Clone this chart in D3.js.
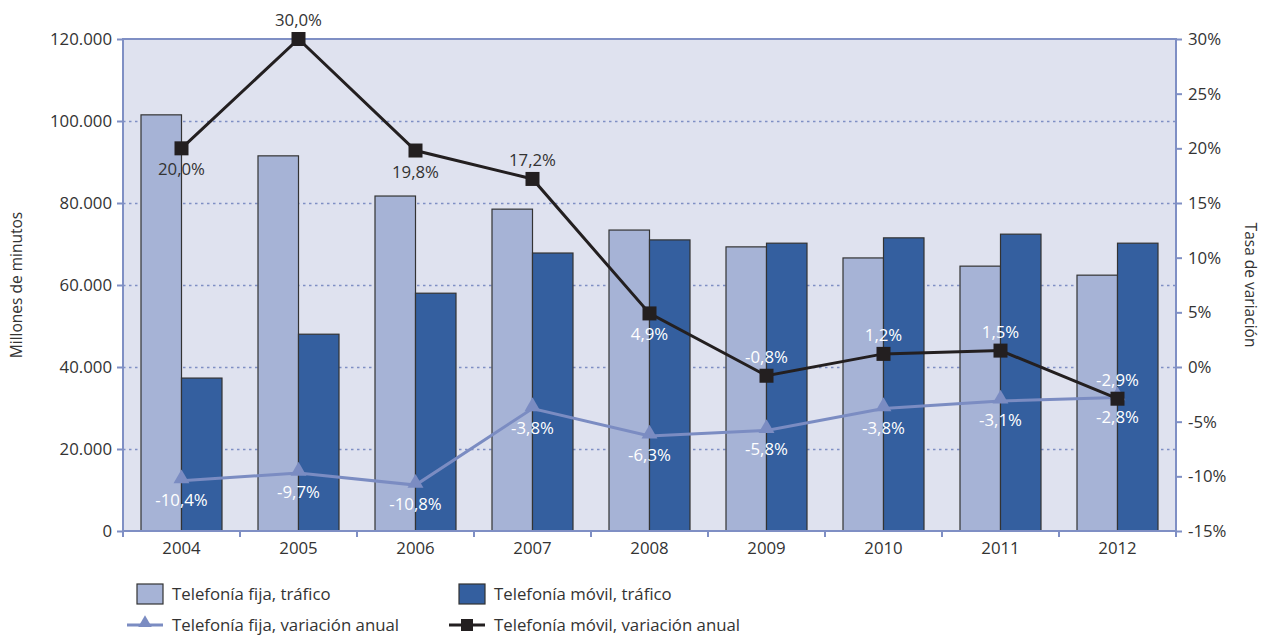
<!DOCTYPE html>
<html><head><meta charset="utf-8">
<script src="https://cdn.jsdelivr.net/npm/d3@7"></script>
<style>body{margin:0;background:#fff;} text{font-family:"Open Sans","Noto Sans",sans-serif;}</style>
</head><body>
<svg id="c" width="1264" height="636"></svg>
<script>
const years = ["2004","2005","2006","2007","2008","2009","2010","2011","2012"];
const fijaTrafico = [101500, 91500, 81700, 78500, 73400, 69300, 66600, 64600, 62400];
const movilTrafico = [37300, 48000, 58000, 67800, 71000, 70200, 71500, 72400, 70200];
const fijaVar = [-10.4, -9.7, -10.8, -3.8, -6.3, -5.8, -3.8, -3.1, -2.8];
const movilVar = [20.0, 30.0, 19.8, 17.2, 4.9, -0.8, 1.2, 1.5, -2.9];
const movilLabelPos = ["below","above","below","above","below","above","above","above","above"];
const movilLabelDark = [true,true,true,true,false,false,false,false,false];
const leftTicks = [0,20000,40000,60000,80000,100000,120000];
const rightTicks = [-15,-10,-5,0,5,10,15,20,25,30];

const C = {bg:"#dfe2ef", axis:"#7f8fc4", fija:"#a6b3d6", movil:"#345f9f", black:"#231f20", fijaLine:"#7b8cc2", text:"#333"};
const L = 123, R = 1176, T = 39, B = 531;
const FS = "16.8px";
const svg = d3.select("#c");
const x = d3.scaleBand().domain(years).range([L,R]);
const y = d3.scaleLinear().domain([0,120000]).range([B,T]);
const y2 = d3.scaleLinear().domain([-15,30]).range([B,T]);
const loc = d3.formatLocale({decimal:",", thousands:".", grouping:[3], currency:["",""], minus:"-"});
const fmtN = loc.format(",");
const fmtP = v => v.toFixed(1).replace(".",",") + "%";

svg.append("rect").attr("x",L).attr("y",T).attr("width",R-L).attr("height",B-T).attr("fill",C.bg);
// grid
svg.append("g").selectAll("line").data(leftTicks.filter(d=>d>0&&d<120000)).join("line")
  .attr("x1",L).attr("x2",R).attr("y1",d=>y(d)+0.5).attr("y2",d=>y(d)+0.5)
  .attr("stroke",C.axis).attr("stroke-width",1.5).attr("stroke-dasharray","2.5,3.5");

const bw = 40.5;
const g = svg.append("g");
g.selectAll(".bf").data(years).join("rect")
  .attr("x",d=>x(d)+x.bandwidth()/2-bw).attr("width",bw)
  .attr("y",(d,i)=>y(fijaTrafico[i])).attr("height",(d,i)=>B-y(fijaTrafico[i]))
  .attr("fill",C.fija).attr("stroke",C.text).attr("stroke-width",1.2);
g.selectAll(".bm").data(years).join("rect")
  .attr("x",d=>x(d)+x.bandwidth()/2).attr("width",bw)
  .attr("y",(d,i)=>y(movilTrafico[i])).attr("height",(d,i)=>B-y(movilTrafico[i]))
  .attr("fill",C.movil).attr("stroke",C.text).attr("stroke-width",1.2);

// border
svg.append("rect").attr("x",L).attr("y",T).attr("width",R-L).attr("height",B-T).attr("fill","none").attr("stroke",C.axis).attr("stroke-width",2);

// axes
const la = svg.append("g").attr("transform",`translate(${L},0)`)
  .call(d3.axisLeft(y).tickValues(leftTicks).tickFormat(fmtN).tickSize(6).tickPadding(5));
const ra = svg.append("g").attr("transform",`translate(${R},0)`)
  .call(d3.axisRight(y2).tickValues(rightTicks).tickFormat(d=>d+"%").tickSize(6).tickPadding(6));
const xa = svg.append("g").attr("transform",`translate(0,${B})`)
  .call(d3.axisBottom(x).tickSize(0).tickPadding(11));
svg.append("g").selectAll("line").data(years.concat(["end"])).join("line")
  .attr("x1",(d,i)=>L+i*x.step()).attr("x2",(d,i)=>L+i*x.step())
  .attr("y1",B).attr("y2",B+6).attr("stroke",C.axis).attr("stroke-width",2);
[la,ra,xa].forEach(a=>{a.select(".domain").remove();
  a.selectAll(".tick line").attr("stroke",C.axis).attr("stroke-width",2);
  a.selectAll("text").attr("fill",C.text).style("font-size",FS).style("font-family","'Open Sans',sans-serif");});

// axis titles
svg.append("text").attr("transform","translate(22,285) rotate(-90)").attr("text-anchor","middle")
  .attr("fill",C.text).style("font-size","15.5px").text("Millones de minutos");
svg.append("text").attr("transform","translate(1245,285) rotate(90)").attr("text-anchor","middle")
  .attr("fill",C.text).style("font-size","15.5px").text("Tasa de variación");

const cx = d => x(d)+x.bandwidth()/2;
// fija line
svg.append("path").datum(years).attr("fill","none").attr("stroke",C.fijaLine).attr("stroke-width",3)
  .attr("d",d3.line().x(cx).y((d,i)=>y2(fijaVar[i])));
const tri = d3.symbol().type(d3.symbolTriangle).size(110);
svg.append("g").selectAll("path").data(years).join("path")
  .attr("transform",(d,i)=>`translate(${cx(d)},${y2(fijaVar[i])-2})`).attr("d",tri).attr("fill",C.fijaLine);
// movil line
svg.append("path").datum(years).attr("fill","none").attr("stroke",C.black).attr("stroke-width",3)
  .attr("d",d3.line().x(cx).y((d,i)=>y2(movilVar[i])));
svg.append("g").selectAll("rect").data(years).join("rect")
  .attr("x",d=>cx(d)-7).attr("y",(d,i)=>y2(movilVar[i])-7).attr("width",14).attr("height",14).attr("fill",C.black);

// labels
svg.append("g").selectAll("text").data(years).join("text")
  .attr("x",cx).attr("y",(d,i)=>y2(fijaVar[i])+25).attr("text-anchor","middle")
  .attr("fill","#fff").style("font-size",FS).text((d,i)=>fmtP(fijaVar[i]));
svg.append("g").selectAll("text").data(years).join("text")
  .attr("x",cx).attr("y",(d,i)=>y2(movilVar[i])+(movilLabelPos[i]==="below"?27:-13)).attr("text-anchor","middle")
  .attr("fill",(d,i)=>movilLabelDark[i]?C.text:"#fff").style("font-size",FS).text((d,i)=>fmtP(movilVar[i]));

// legend
const lg = svg.append("g").style("font-size",FS);
const items = [
  {t:"Telefonía fija, tráfico", x:137, y:594, type:"box", c:C.fija},
  {t:"Telefonía móvil, tráfico", x:459, y:594, type:"box", c:C.movil},
  {t:"Telefonía fija, variación anual", x:137, y:625, type:"tri", c:C.fijaLine},
  {t:"Telefonía móvil, variación anual", x:459, y:625, type:"sq", c:C.black}
];
items.forEach(it=>{
  if(it.type==="box"){
    lg.append("rect").attr("x",it.x).attr("y",it.y-10).attr("width",26).attr("height",20).attr("fill",it.c).attr("stroke",C.text).attr("stroke-width",1.2);
  } else {
    lg.append("line").attr("x1",it.x-10).attr("x2",it.x+26).attr("y1",it.y).attr("y2",it.y).attr("stroke",it.c).attr("stroke-width",3);
    if(it.type==="tri") lg.append("path").attr("transform",`translate(${it.x+8},${it.y-2})`).attr("d",d3.symbol().type(d3.symbolTriangle).size(80)).attr("fill",it.c);
    else lg.append("rect").attr("x",it.x+2).attr("y",it.y-6).attr("width",12).attr("height",12).attr("fill",it.c);
  }
  lg.append("text").attr("x",it.x+35).attr("y",it.y).attr("dy","0.35em").attr("fill",C.text).text(it.t);
});
</script>
</body></html>
